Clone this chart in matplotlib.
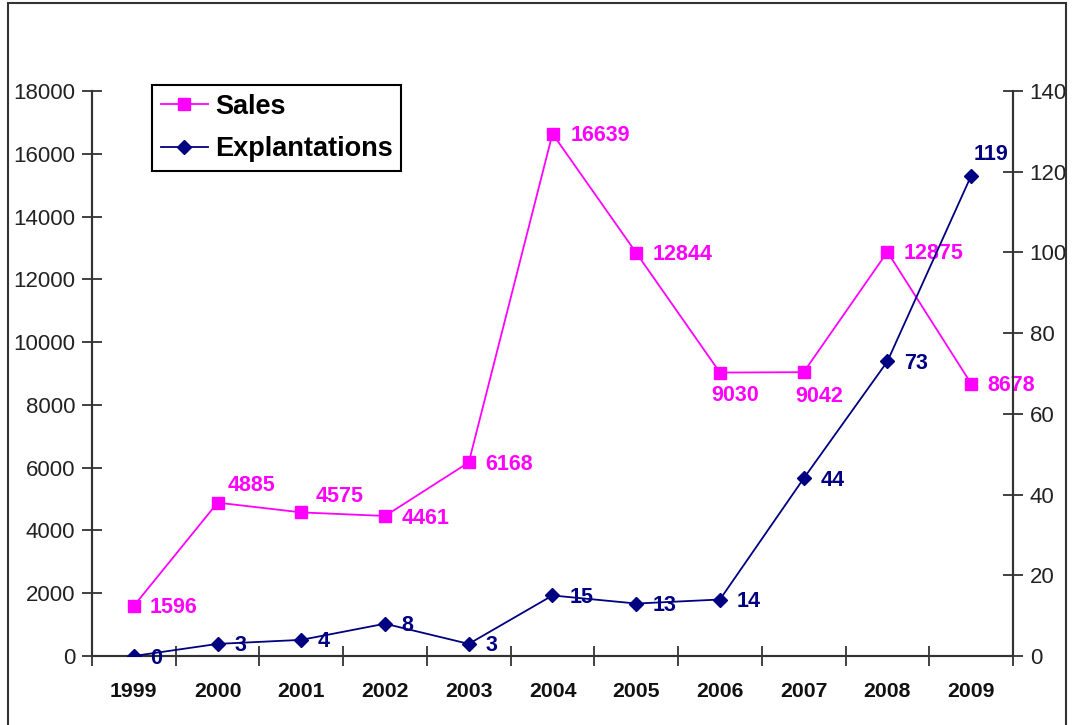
import matplotlib
matplotlib.use("Agg")
import matplotlib.pyplot as plt
from matplotlib.lines import Line2D
from matplotlib.patches import Rectangle
import numpy as np

plt.rcParams['font.family'] = ['Liberation Sans', 'DejaVu Sans']

years = ['1999', '2000', '2001', '2002', '2003', '2004', '2005', '2006', '2007', '2008', '2009']
sales = [1596, 4885, 4575, 4461, 6168, 16639, 12844, 9030, 9042, 12875, 8678]
explantations = [0, 3, 4, 8, 3, 15, 13, 14, 44, 73, 119]

left_ticks = list(range(0, 18001, 2000))
right_ticks = list(range(0, 141, 20))

# label offsets (points)
sales_off = [(11, -1.5), (7, 12.5), (10, 11.5), (12, -1.5), (12, -1.5), (13, -1.5), (12, -1.5),
             (11, -16.5), (11, -17.5), (12, -1.5), (11.5, -1.5)]
expl_off = [(12, -1.5)] * 10 + [(2, 15.5)]
sales_ha = ['left'] * 7 + ['center', 'center'] + ['left'] * 2

SALES_C = '#FF00FF'
EXPL_C = '#000080'
AX_C = '#333333'

fig = plt.figure(figsize=(10.72, 7.25), dpi=100)
ax = fig.add_axes([92/1072, 1-656/725, (1013-92)/1072, (656-91)/725])
ax2 = ax.twinx()

x = np.arange(len(years))
ax.plot(x, sales, color=SALES_C, lw=1.3, marker='s', ms=8, zorder=3)
ax2.plot(x, explantations, color=EXPL_C, lw=1.3, marker='D', ms=7, zorder=3)

for xi, v, (dx, dy), ha in zip(x, sales, sales_off, sales_ha):
    ax.annotate(str(v), (xi, v), xytext=(dx, dy), textcoords='offset points',
                ha=ha, va='center', color=SALES_C, fontsize=15.5, fontweight='bold')
for xi, v, (dx, dy) in zip(x, explantations, expl_off):
    ax2.annotate(str(v), (xi, v), xytext=(dx, dy), textcoords='offset points',
                 ha='left', va='center', color=EXPL_C, fontsize=15.5, fontweight='bold')

ax.set_xlim(-0.5, len(years) - 0.5)
ax.set_ylim(0, 18000)
ax2.set_ylim(0, 140)
ax.set_yticks(left_ticks)
ax2.set_yticks(right_ticks)
ax.set_xticks(x)
ax.set_xticklabels(years, fontweight='bold', fontsize=15.3)
ax.set_xticks(np.arange(-0.5, len(years)), minor=True)
ax.tick_params(axis='x', which='major', length=0, pad=19, colors='#111111')
ax.tick_params(axis='x', which='minor', direction='inout', length=14, width=1.3, color=AX_C)
ax.tick_params(axis='y', direction='inout', length=14, width=1.3, color=AX_C, labelsize=16, labelcolor='#222222', pad=5)
ax2.tick_params(axis='y', direction='inout', length=14, width=1.3, color=AX_C, labelsize=16, labelcolor='#222222', pad=5)

for a in (ax, ax2):
    a.spines['top'].set_visible(False)
    for s in ('left', 'right', 'bottom'):
        a.spines[s].set_color(AX_C)
        a.spines[s].set_linewidth(1.5)
ax.set_facecolor('none')

handles = [Line2D([], [], color=SALES_C, marker='s', ms=8, lw=1.3),
           Line2D([], [], color=EXPL_C, marker='D', ms=7, lw=1.3)]
leg = fig.legend(handles, ['Sales', 'Explantations'], loc='upper left',
                 bbox_to_anchor=(152/1072, 1-85/725), borderaxespad=0,
                 prop={'weight': 'bold', 'size': 19.5}, fancybox=False,
                 edgecolor='black', framealpha=1, handlelength=1.75,
                 borderpad=0.32, labelspacing=0.62, handletextpad=0.25)
leg.get_frame().set_linewidth(1.5)

fig.patches.append(Rectangle((8/1072, -0.05), (1066-8)/1072, 1-3/725+0.05,
                             transform=fig.transFigure, fill=False,
                             edgecolor='#333333', lw=1.5))

fig.savefig('out.png', dpi=100)
